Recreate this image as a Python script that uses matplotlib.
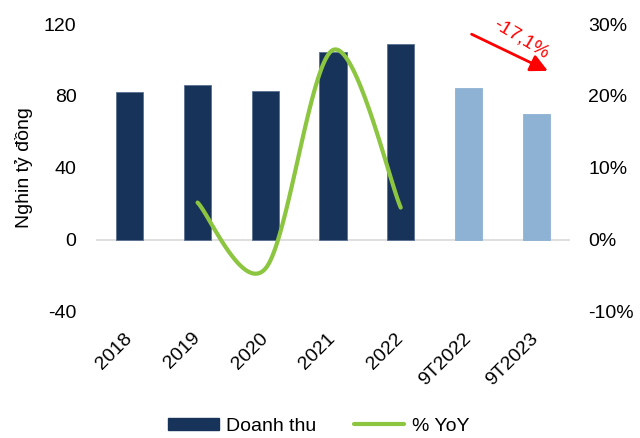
import numpy as np
import matplotlib
matplotlib.use("Agg")
import matplotlib.pyplot as plt
from matplotlib.ticker import FuncFormatter
from matplotlib.lines import Line2D
from matplotlib.patches import Patch

plt.rcParams['font.family'] = ['Liberation Sans', 'DejaVu Sans']
plt.rcParams['axes.unicode_minus'] = False

categories = ['2018', '2019', '2020', '2021', '2022', '9T2022', '9T2023']
revenue = [82.2, 86.1, 82.8, 104.4, 108.9, 84.4, 70.0]
yoy_cats = ['2019', '2020', '2021', '2022']
yoy = [5.2, -4.0, 26.4, 4.5]
change_label = '-17,1%'

navy = '#173359'
light = '#8DB2D3'
green = '#8CC540'
fs = 14

fig = plt.figure(figsize=(6.4, 4.38), dpi=100)
ax = fig.add_axes([0.15, 0.2877, 0.7406, 0.6575])

x = np.arange(len(categories))
colors = [navy] * 5 + [light] * 2
ax.bar(x, revenue, width=0.4, color=colors, edgecolor=['#5A7193'] * 5 + [light] * 2,
       linewidth=0.6, zorder=2)
ax.axhline(0, color='#D9D9D9', linewidth=1.2, zorder=1)

ax.set_xlim(-0.5, len(categories) - 0.5)
ax.set_ylim(-40, 120)
ax.set_yticks([-40, 0, 40, 80, 120])
ax.set_xticks(x)
ax.set_xticklabels(categories, rotation=45, ha='right', va='center',
                   rotation_mode='anchor', fontsize=fs)
ax.tick_params(axis='both', length=0, labelsize=fs, colors='#000000')
ax.tick_params(axis='y', pad=14)
ax.tick_params(axis='x', pad=17)
for s in ax.spines.values():
    s.set_visible(False)
ax.set_ylabel('Nghin tỷ đồng', fontsize=fs, labelpad=8)

# secondary axis for growth, smoothed like a spreadsheet line
ax2 = ax.twinx()
ax2.set_ylim(-10, 30)
ax2.set_yticks([-10, 0, 10, 20, 30])
ax2.yaxis.set_major_formatter(FuncFormatter(lambda v, p: '%d%%' % v))
ax2.tick_params(axis='y', length=0, labelsize=fs, pad=13)
for s in ax2.spines.values():
    s.set_visible(False)

px = np.array([categories.index(c) for c in yoy_cats], dtype=float)
py = np.array(yoy, dtype=float)
pts = np.column_stack([px, py])
ext = np.vstack([pts[0], pts, pts[-1]])
curve = []
for i in range(len(pts) - 1):
    p0, p1, p2, p3 = ext[i], ext[i + 1], ext[i + 2], ext[i + 3]
    c1 = p1 + (p2 - p0) / 6
    c2 = p2 - (p3 - p1) / 6
    t = np.linspace(0, 1, 40)[:, None]
    seg = (1 - t) ** 3 * p1 + 3 * (1 - t) ** 2 * t * c1 + 3 * (1 - t) * t ** 2 * c2 + t ** 3 * p2
    curve.append(seg if i == 0 else seg[1:])
curve = np.vstack(curve)
ax2.plot(curve[:, 0], curve[:, 1], color=green, linewidth=3, solid_capstyle='round', zorder=3)

# decline arrow for the nine-month comparison
ax.annotate('', xy=(6.21, 93.3), xytext=(5.01, 115),
            arrowprops=dict(arrowstyle='-|>', color='red', lw=2, mutation_scale=26))
ax.text(5.78, 112.0, change_label, color='red', fontsize=fs, rotation=-31,
        ha='center', va='center')

handles = [Patch(facecolor=navy, edgecolor=navy),
           Line2D([0], [0], color=green, linewidth=3, solid_capstyle='round')]
fig.legend(handles, ['Doanh thu', '% YoY'], loc='center', bbox_to_anchor=(0.498, 0.027),
           ncol=2, frameon=False, fontsize=fs, handlelength=2.6, handleheight=0.55,
           columnspacing=1.9, handletextpad=0.4)

fig.savefig('out.png', dpi=100)
